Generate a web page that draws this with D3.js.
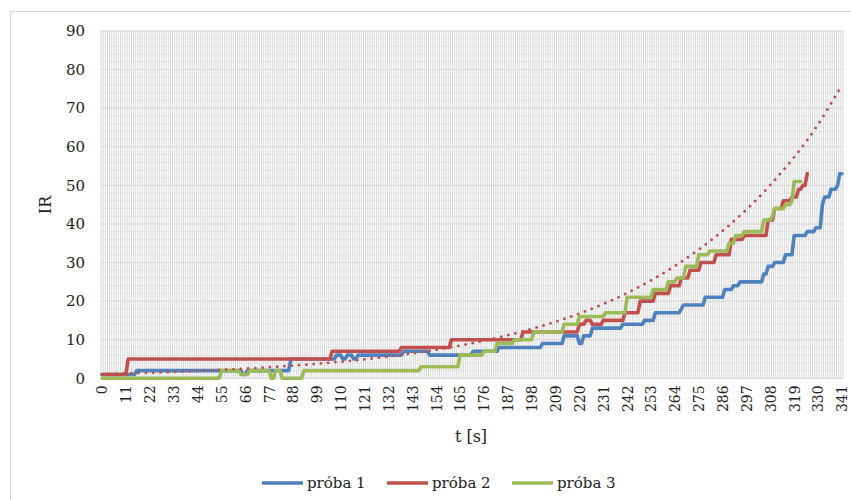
<!DOCTYPE html>
<html>
<head>
<meta charset="utf-8">
<script src="https://cdn.jsdelivr.net/npm/d3@7"></script>
<style>
  body { margin: 0; background: #fff; }
  text { font-family: "DejaVu Serif", serif; fill: #222; }
</style>
</head>
<body>
<svg id="chart" width="851" height="500"></svg>
<script>
// categories: seconds 0..341, one per category
var categories = d3.range(0, 342);
var tickLabels = d3.range(0, 342, 11);
var yTicks = [0, 10, 20, 30, 40, 50, 60, 70, 80, 90];

// step data: [t, IR] where IR changes, plus last t of series
var proba1 = [[0,1],[16,2],[65,1],[67,2],[87,5],[108,6],[111,5],[113,6],[116,5],[118,6],[139,7],[151,6],[171,7],[183,8],
  [203,9],[213,11],[220,9],[222,11],[226,13],[240,14],[250,15],[255,17],[267,18],[268,19],[278,21],[287,23],[291,24],
  [294,25],[305,27],[307,29],[310,30],[315,32],[319,37],[325,38],[329,39],[332,45],[333,47],[336,49],[339,50],[340,53]];
var proba1End = 341;
var proba2 = [[0,1],[12,5],[106,7],[138,8],[161,10],[194,12],[220,14],[223,15],[226,14],[231,15],[241,17],[248,20],
  [255,22],[262,24],[267,26],[271,28],[276,30],[283,32],[290,36],[296,37],[307,41],[310,44],[314,46],[318,47],
  [321,49],[323,50],[325,53]];
var proba2End = 325;
var proba3 = [[0,0],[55,2],[64,1],[68,2],[78,0],[80,2],[83,0],[93,2],[147,3],[165,6],[176,7],[182,9],[190,10],[199,12],
  [213,14],[220,16],[232,17],[242,21],[254,23],[261,25],[265,26],[269,29],[275,32],[280,33],[289,35],[292,37],
  [296,38],[305,41],[309,42],[310,44],[315,45],[318,46],[319,51]];
var proba3End = 322;

// exponential trendline (red dotted)
var trendT = [0, 22, 44, 66, 88, 110, 132, 154, 176, 198, 220, 242, 264, 286, 308, 330, 341];
var trendV = [1.1, 1.45, 1.9, 2.5, 3.3, 4.3, 5.65, 7.4, 9.75, 12.8, 16.8, 22.1, 29.1, 38.2, 50.1, 65.8, 76];

var seriesNames = ['próba 1', 'próba 2', 'próba 3'];
var colors = ['#4F81BD', '#C0504D', '#9BBB59'];

var svg = d3.select('#chart');

// outer chart border
svg.append('rect')
  .attr('x', 10.5).attr('y', 11.5)
  .attr('width', 900).attr('height', 600)
  .attr('fill', 'none')
  .attr('stroke', '#d9d9d9');

var plotLeft = 101, plotRight = 843, plotTop = 31, plotBottom = 378.3;

var x = d3.scalePoint()
  .domain(categories)
  .range([plotLeft, plotRight])
  .padding(0.5);
var step = x.step();

var y = d3.scaleLinear()
  .domain([0, 90])
  .range([plotBottom, plotTop]);

// minor horizontal grid
svg.append('g')
  .selectAll('line')
  .data(d3.range(0, 91, 2))
  .join('line')
  .attr('x1', plotLeft).attr('x2', plotRight)
  .attr('y1', d => y(d)).attr('y2', d => y(d))
  .attr('stroke', '#ececec');

// vertical grid at every category boundary
svg.append('g')
  .selectAll('line')
  .data(d3.range(0, categories.length + 1))
  .join('line')
  .attr('x1', i => plotLeft + i * step).attr('x2', i => plotLeft + i * step)
  .attr('y1', plotTop).attr('y2', plotBottom)
  .attr('stroke', '#d4d4d4')
  .attr('stroke-width', 0.9);

// major horizontal grid
svg.append('g')
  .selectAll('line')
  .data(yTicks)
  .join('line')
  .attr('x1', plotLeft).attr('x2', plotRight)
  .attr('y1', d => y(d)).attr('y2', d => y(d))
  .attr('stroke', '#d9d9d9');

// y axis labels
var yAxis = svg.append('g')
  .attr('transform', `translate(${plotLeft},0)`)
  .call(d3.axisLeft(y).tickValues(yTicks).tickSize(0).tickPadding(16));
yAxis.select('.domain').remove();
yAxis.selectAll('text')
  .style('font-family', '"DejaVu Serif", serif')
  .style('font-size', '15px')
  .attr('fill', '#222');

// x axis labels, rotated
var xAxis = svg.append('g')
  .attr('transform', `translate(0,${plotBottom})`)
  .call(d3.axisBottom(x).tickValues(tickLabels).tickSize(0));
xAxis.select('.domain').remove();
xAxis.selectAll('text')
  .style('font-family', '"DejaVu Serif", serif')
  .style('font-size', '14px')
  .attr('fill', '#222')
  .attr('text-anchor', 'end')
  .attr('transform', 'rotate(-90)')
  .attr('x', -7)
  .attr('y', 0)
  .attr('dy', '0.35em');

// turn step changes into line points
function toPoints(steps, end) {
  var pts = [];
  steps.forEach(function(s, i) {
    var last = i < steps.length - 1 ? steps[i + 1][0] - 1 : end;
    pts.push([s[0], s[1]]);
    if (last > s[0]) pts.push([last, s[1]]);
  });
  return pts;
}

var line = d3.line()
  .x(d => x(d[0]))
  .y(d => y(d[1]));

var allSeries = [toPoints(proba1, proba1End), toPoints(proba2, proba2End), toPoints(proba3, proba3End)];

svg.append('g')
  .selectAll('path')
  .data(allSeries)
  .join('path')
  .attr('d', line)
  .attr('fill', 'none')
  .attr('stroke', (d, i) => colors[i])
  .attr('stroke-width', 3.6)
  .attr('stroke-linejoin', 'round')
  .attr('stroke-linecap', 'round');

// trendline
var trend = trendT.map((t, i) => [t, trendV[i]]);
svg.append('path')
  .datum(trend)
  .attr('d', d3.line().x(d => x(d[0])).y(d => y(d[1])).curve(d3.curveMonotoneX))
  .attr('fill', 'none')
  .attr('stroke', '#C0504D')
  .attr('stroke-width', 2.8)
  .attr('stroke-dasharray', '0.1 7.2')
  .attr('stroke-linecap', 'round');

// axis titles
svg.append('text')
  .attr('transform', 'translate(51,205) rotate(-90)')
  .attr('text-anchor', 'middle')
  .style('font-size', '16px')
  .text('IR');

svg.append('text')
  .attr('x', 471)
  .attr('y', 442)
  .attr('text-anchor', 'middle')
  .style('font-size', '16px')
  .text('t [s]');

// legend
var legendX = [262, 387, 512];
var legend = svg.append('g')
  .selectAll('g')
  .data(seriesNames)
  .join('g')
  .attr('transform', (d, i) => `translate(${legendX[i]},483)`);
legend.append('line')
  .attr('x1', 0).attr('x2', 41)
  .attr('stroke', (d, i) => colors[i])
  .attr('stroke-width', 3.6);
legend.append('text')
  .attr('x', 45)
  .attr('dy', '0.35em')
  .style('font-size', '15px')
  .text(d => d);
</script>
</body>
</html>
